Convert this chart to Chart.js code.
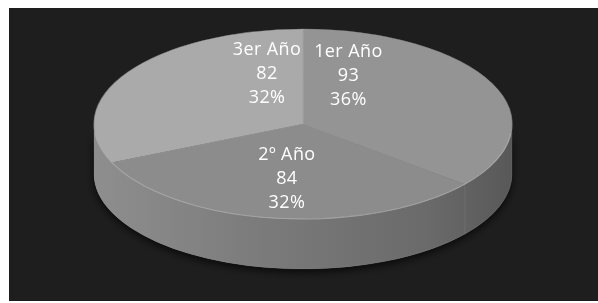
<!DOCTYPE html>
<html>
<head>
<meta charset="utf-8">
<script src="https://cdn.jsdelivr.net/npm/chart.js@4/dist/chart.umd.min.js"></script>
<style>
  html, body { margin: 0; padding: 0; background: #ffffff; }
  #wrap { width: 598px; height: 303px; }
</style>
</head>
<body>
<div id="wrap"><canvas id="c" width="598" height="303"></canvas></div>
<script>
// ---- data ----
const categories = ['1er Año', '2º Año', '3er Año'];
const values = [93, 84, 82];

// ---- styles ----
const topColors = ['#949494', '#8c8c8c', '#aaaaaa'];
const FRAME = { left: 9, top: 8, right: 598, bottom: 301, color: '#1e1e1e' };
const ELLIPSE = { cx: 303, cy: 124, rx: 209, ry: 95, depth: 50 };
// label placement relative to each slice: fraction along the slice angle, fraction of radius
const labelPlacement = [
  { angleFrac: 0.18, radiusFrac: 0.55 },
  { angleFrac: 0.50, radiusFrac: 0.58 },
  { angleFrac: 0.84, radiusFrac: 0.55 }
];

const total = values.reduce((a, b) => a + b, 0);
const percents = values.map(v => Math.round(v / total * 100) + '%');

const pie3d = {
  id: 'pie3d',
  beforeDraw(chart) {
    const ctx = chart.ctx;
    ctx.save();
    ctx.fillStyle = '#ffffff';
    ctx.fillRect(0, 0, chart.width, chart.height);
    ctx.fillStyle = FRAME.color;
    ctx.fillRect(FRAME.left, FRAME.top, FRAME.right - FRAME.left, FRAME.bottom - FRAME.top);
    ctx.restore();
  },
  beforeDatasetsDraw(chart) {
    const ctx = chart.ctx;
    const meta = chart.getDatasetMeta(0);
    const E = ELLIPSE;
    // side walls (front half only)
    const grad = ctx.createLinearGradient(E.cx - E.rx, 0, E.cx + E.rx, 0);
    grad.addColorStop(0, '#8e8e8e');
    grad.addColorStop(0.4, '#7b7b7b');
    grad.addColorStop(0.8, '#6a6a6a');
    grad.addColorStop(1, '#585858');
    // shadow underneath
    ctx.save();
    ctx.shadowColor = 'rgba(0,0,0,0.75)';
    ctx.shadowBlur = 8;
    ctx.shadowOffsetY = 3;
    ctx.beginPath();
    ctx.ellipse(E.cx, E.cy, E.rx, E.ry, 0, 0, Math.PI, false);
    ctx.ellipse(E.cx, E.cy + E.depth, E.rx, E.ry, 0, Math.PI, 0, true);
    ctx.closePath();
    ctx.fillStyle = grad;
    ctx.fill();
    ctx.restore();
    meta.data.forEach((el) => {
      const s = Math.max(el.startAngle, 0);
      const e = Math.min(el.endAngle, Math.PI);
      if (e <= s) return;
      ctx.save();
      ctx.beginPath();
      ctx.ellipse(E.cx, E.cy, E.rx, E.ry, 0, s, e, false);
      ctx.ellipse(E.cx, E.cy + E.depth, E.rx, E.ry, 0, e, s, true);
      ctx.closePath();
      ctx.fillStyle = grad;
      ctx.fill();
      ctx.strokeStyle = 'rgba(150,150,150,0.3)';
      ctx.lineWidth = 0.6;
      ctx.stroke();
      ctx.restore();
    });
    // transform the flat pie into the ellipse top face
    const el0 = meta.data[0];
    const r = el0.outerRadius;
    ctx.save();
    ctx.translate(E.cx, E.cy);
    ctx.scale(E.rx / r, E.ry / r);
    ctx.translate(-el0.x, -el0.y);
  },
  afterDatasetsDraw(chart) {
    const ctx = chart.ctx;
    ctx.restore();
    const meta = chart.getDatasetMeta(0);
    const E = ELLIPSE;
    // light rim highlight on front edge
    ctx.save();
    ctx.beginPath();
    ctx.ellipse(E.cx, E.cy, E.rx, E.ry, 0, 0.1, Math.PI - 0.1, false);
    ctx.strokeStyle = 'rgba(185,185,185,0.55)';
    ctx.lineWidth = 1.2;
    ctx.stroke();
    ctx.restore();
    // labels
    ctx.save();
    ctx.fillStyle = '#ffffff';
    ctx.font = '18px "Open Sans", sans-serif';
    if ('letterSpacing' in ctx) ctx.letterSpacing = '0.4px';
    ctx.textAlign = 'center';
    ctx.textBaseline = 'middle';
    meta.data.forEach((el, i) => {
      const p = labelPlacement[i];
      const a = el.startAngle + p.angleFrac * (el.endAngle - el.startAngle);
      const x = E.cx + E.rx * p.radiusFrac * Math.cos(a);
      const y = E.cy + E.ry * p.radiusFrac * Math.sin(a);
      const lines = [categories[i], String(values[i]), percents[i]];
      lines.forEach((t, k) => ctx.fillText(t, x, y + (k - 1) * 24));
    });
    ctx.restore();
  }
};

new Chart(document.getElementById('c'), {
  type: 'pie',
  data: {
    labels: categories,
    datasets: [{
      data: values,
      backgroundColor: topColors,
      borderColor: 'rgba(160,160,160,0.6)',
      borderWidth: 0.8,
      clip: false
    }]
  },
  options: {
    responsive: false,
    animation: false,
    events: [],
    layout: { padding: 0 },
    plugins: { legend: { display: false }, tooltip: { enabled: false } }
  },
  plugins: [pie3d]
});
</script>
</body>
</html>
